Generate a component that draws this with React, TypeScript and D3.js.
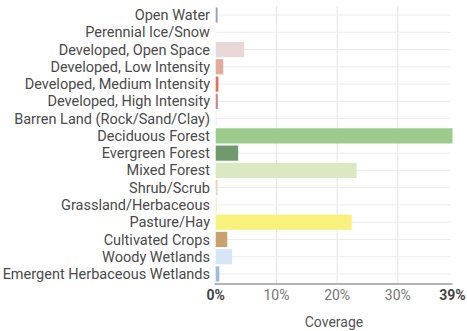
import React from "react";
import * as d3 from "d3";

const categories = [
  "Open Water",
  "Perennial Ice/Snow",
  "Developed, Open Space",
  "Developed, Low Intensity",
  "Developed, Medium Intensity",
  "Developed, High Intensity",
  "Barren Land (Rock/Sand/Clay)",
  "Deciduous Forest",
  "Evergreen Forest",
  "Mixed Forest",
  "Shrub/Scrub",
  "Grassland/Herbaceous",
  "Pasture/Hay",
  "Cultivated Crops",
  "Woody Wetlands",
  "Emergent Herbaceous Wetlands",
];

const coverage = [0.3, 0, 4.7, 1.25, 0.45, 0.35, 0.1, 39, 3.7, 23.2, 0.3, 0.2, 22.4, 1.9, 2.7, 0.6];

const colors = [
  "#8f9fc3", "#ffffff", "#e9d7d7", "#e2ab9c", "#e0705e", "#c98888", "#e3dfd8",
  "#9ccb8c", "#6f9a6d", "#dbe9c3", "#e7d5ad", "#f6ecc8", "#f8f17c", "#c9a06e",
  "#d6e6f6", "#9cbcdb",
];

const xTicks = [0, 10, 20, 30, 39];

export default function App() {
  const W = 467;
  const H = 331;
  const x0 = 215.7;
  const x1 = 452.5;
  const x = d3.scaleLinear().domain([0, 39]).range([x0, x1]);
  const y = d3.scaleBand().domain(categories).range([6.4, 282.6]).paddingInner(0.12).paddingOuter(0.06);
  const font = "Roboto, 'Noto Sans', sans-serif";

  return (
    <svg width={W} height={H} style={{ position: "absolute", left: 0, top: 0, background: "#fff" }}>
      {[10, 20, 30].map((t) => (
        <line key={"v" + t} x1={x(t)} x2={x(t)} y1={6} y2={284} stroke="#e6e6e6" strokeWidth={1} />
      ))}
      {categories.map((c) => (
        <line
          key={"h" + c}
          x1={x0}
          x2={x1 - 2}
          y1={(y(c) as number) + y.bandwidth() / 2}
          y2={(y(c) as number) + y.bandwidth() / 2}
          stroke="#ececec"
          strokeWidth={1}
        />
      ))}
      {categories.map((c, i) => (
        <rect
          key={"b" + c}
          x={x(0)}
          y={y(c) as number}
          width={Math.max(0, x(coverage[i]) - x(0))}
          height={y.bandwidth()}
          fill={colors[i]}
        />
      ))}
      {categories.map((c) => (
        <text
          key={"l" + c}
          x={210}
          y={(y(c) as number) + y.bandwidth() / 2}
          dy="0.35em"
          textAnchor="end"
          fontFamily={font}
          fontSize={14.5}
          fill="#4a4a4a"
        >
          {c}
        </text>
      ))}
      <line x1={x0 - 1} x2={x1} y1={284} y2={284} stroke="#9a9a9a" strokeWidth={1.5} />
      {xTicks.map((t, i) => (
        <text
          key={"t" + t}
          x={x(t)}
          y={299.5}
          textAnchor="middle"
          fontFamily={font}
          fontSize={14}
          fontWeight={i === 0 || i === xTicks.length - 1 ? "bold" : "normal"}
          fill={i === 0 || i === xTicks.length - 1 ? "#444" : "#777"}
        >
          {t + "%"}
        </text>
      ))}
      <text x={334} y={327} textAnchor="middle" fontFamily={font} fontSize={14} fill="#555">
        Coverage
      </text>
    </svg>
  );
}
